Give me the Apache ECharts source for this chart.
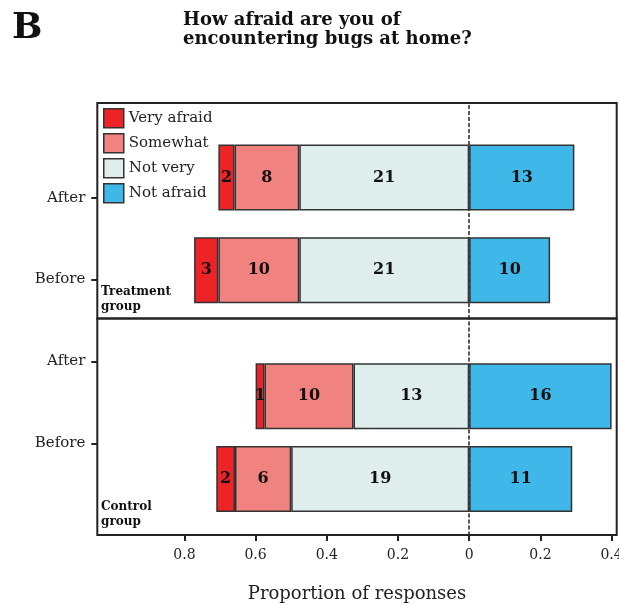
<!DOCTYPE html>
<html>
<head>
<meta charset="utf-8">
<script src="https://cdn.jsdelivr.net/npm/echarts@6/dist/echarts.min.js"></script>
<style>
  html, body { margin: 0; padding: 0; background: #fff; }
  #chart { width: 619px; height: 605px; }
</style>
</head>
<body>
<div id="chart"></div>
<script>
// rows inside each panel, top to bottom
const rowNames = ["After", "Before"];
const axisRows = ["After", "Before", "After", "Before"];

// response counts, treatment group
const treatVeryAfraid = [2, 3];
const treatSomewhat = [8, 10];
const treatNotVery = [21, 21];
const treatNotAfraid = [13, 10];

// response counts, control group
const ctrlVeryAfraid = [1, 2];
const ctrlSomewhat = [10, 6];
const ctrlNotVery = [13, 19];
const ctrlNotAfraid = [16, 11];

// x axis ticks (absolute proportions shown)
const tickMin = -0.8;
const tickMax = 0.4;
const tickStep = 0.2;

const font = "DejaVu Serif";
const colors = {
  "Very afraid": "#ee2328",
  "Somewhat": "#f08280",
  "Not very": "#e0eded",
  "Not afraid": "#3fb7e8",
};

// plot frame in pixels, zero line at 469.2, 356 px per unit
const zeroX = 469.2;
const pxPerUnit = 356;
const frameLeft = 97.3;
const frameWidth = 519.4;
const xMin = -(zeroX - frameLeft) / pxPerUnit;
const xMax = (frameLeft + frameWidth - zeroX) / pxPerUnit;

function rowTotals(a, b, c, d) {
  return a.map((v, i) => v + b[i] + c[i] + d[i]);
}

function makeSeries(stack, axisIdx, parts, totals) {
  // parts in stack order: nearest zero first
  return parts.map(([name, counts, sign]) => ({
    name: name,
    type: "bar",
    stack: stack,
    xAxisIndex: axisIdx,
    yAxisIndex: axisIdx,
    barWidth: 66,
    data: counts.map((c, i) => (sign * c) / totals[i]),
    itemStyle: { color: colors[name], borderColor: "#333", borderWidth: 1.5 },
    label: {
      show: true,
      position: "inside",
      color: "#111",
      fontFamily: font,
      fontWeight: "bold",
      fontSize: 16,
      formatter: (p) => String(counts[p.dataIndex]),
    },
  }));
}

const treatTotals = rowTotals(treatVeryAfraid, treatSomewhat, treatNotVery, treatNotAfraid);
const ctrlTotals = rowTotals(ctrlVeryAfraid, ctrlSomewhat, ctrlNotVery, ctrlNotAfraid);

const treatSeries = makeSeries("treat", 4, [
  ["Not very", treatNotVery, -1],
  ["Somewhat", treatSomewhat, -1],
  ["Very afraid", treatVeryAfraid, -1],
  ["Not afraid", treatNotAfraid, 1],
], treatTotals);

const ctrlSeries = makeSeries("ctrl", 5, [
  ["Not very", ctrlNotVery, -1],
  ["Somewhat", ctrlSomewhat, -1],
  ["Very afraid", ctrlVeryAfraid, -1],
  ["Not afraid", ctrlNotAfraid, 1],
], ctrlTotals);

const hiddenValue = { type: "value", show: false, min: 0, max: 1 };
const dashedZero = {
  type: "value",
  min: 0,
  max: 1,
  axisLine: { show: true, onZero: true, lineStyle: { color: "#222", width: 1.5, type: [3, 3] } },
  axisTick: { show: false },
  axisLabel: { show: false },
  splitLine: { show: false },
};

function grid(extra) {
  return Object.assign({ outerBoundsMode: "none", containLabel: false }, extra);
}

const chartOption = {
  animation: false,
  title: [
    { text: "B", left: 12, top: 11, padding: 0,
      textStyle: { fontFamily: font, fontWeight: "bold", fontSize: 36, color: "#111" } },
    { text: "How afraid are you of\nencountering bugs at home?", left: 183, top: 11, padding: 0,
      textStyle: { fontFamily: font, fontWeight: "bold", fontSize: 18, lineHeight: 19, color: "#111" } },
    { text: "Treatment\ngroup", left: 101, top: 284, padding: 0,
      textStyle: { fontFamily: font, fontWeight: "bold", fontSize: 12, lineHeight: 15, color: "#111" } },
    { text: "Control\ngroup", left: 101, top: 499, padding: 0,
      textStyle: { fontFamily: font, fontWeight: "bold", fontSize: 12, lineHeight: 15, color: "#111" } },
  ],
  legend: {
    data: ["Very afraid", "Somewhat", "Not very", "Not afraid"],
    orient: "vertical",
    left: 103,
    top: 108,
    padding: 0,
    itemWidth: 20,
    itemHeight: 19,
    itemGap: 4.5,
    icon: "rect",
    itemStyle: { borderColor: "#333", borderWidth: 1.5 },
    textStyle: { fontFamily: font, fontSize: 15, color: "#222" },
  },
  grid: [
    // panel frames
    grid({ left: frameLeft, width: frameWidth, top: 103, height: 215.5, show: true, borderColor: "#222", borderWidth: 2 }),
    grid({ left: frameLeft, width: frameWidth, top: 318.5, height: 216.5, show: true, borderColor: "#222", borderWidth: 2 }),
    // bottom tick axis
    grid({ left: zeroX + tickMin * pxPerUnit, width: (tickMax - tickMin) * pxPerUnit, top: 103, height: 432 }),
    // left row labels
    grid({ left: frameLeft, width: frameWidth, top: 156.7, height: 327.6 }),
    // bar areas
    grid({ left: frameLeft, width: frameWidth, top: 131.1, height: 185.6 }),
    grid({ left: frameLeft, width: frameWidth, top: 355, height: 165.2 }),
  ],
  xAxis: [
    { type: "value", gridIndex: 0, min: xMin, max: xMax, show: false },
    {
      type: "value", gridIndex: 1, min: xMin, max: xMax,
      name: "Proportion of responses", nameLocation: "middle", nameGap: 50,
      nameTextStyle: { fontFamily: font, fontSize: 18, color: "#222" },
      axisLine: { show: false }, axisTick: { show: false },
      axisLabel: { show: false }, splitLine: { show: false },
    },
    {
      type: "value", gridIndex: 2, min: tickMin, max: tickMax, interval: tickStep,
      axisLine: { show: false },
      axisTick: { show: true, length: 6, lineStyle: { color: "#222", width: 2 } },
      axisLabel: {
        margin: 13, fontFamily: font, fontSize: 14, color: "#222",
        formatter: (v) => String(Math.abs(Math.round(v * 10) / 10)),
      },
      splitLine: { show: false },
    },
    { type: "value", gridIndex: 3, min: 0, max: 1, show: false },
    { type: "value", gridIndex: 4, min: xMin, max: xMax, show: false },
    { type: "value", gridIndex: 5, min: xMin, max: xMax, show: false },
  ],
  yAxis: [
    Object.assign({ gridIndex: 0 }, dashedZero),
    Object.assign({ gridIndex: 1 }, dashedZero),
    Object.assign({ gridIndex: 2 }, hiddenValue),
    {
      type: "category", gridIndex: 3, inverse: true, data: axisRows,
      axisLine: { show: false },
      axisTick: { show: true, alignWithLabel: true, length: 6, lineStyle: { color: "#222", width: 2 } },
      axisLabel: { margin: 12, fontFamily: font, fontSize: 15, color: "#222" },
    },
    { type: "category", gridIndex: 4, inverse: true, data: rowNames, show: false },
    { type: "category", gridIndex: 5, inverse: true, data: rowNames, show: false },
  ],
  series: treatSeries.concat(ctrlSeries),
};

const myChart = echarts.init(document.getElementById("chart"));
myChart.setOption(chartOption);
window.onresize = () => {
  myChart.resize();
};
</script>
</body>
</html>
